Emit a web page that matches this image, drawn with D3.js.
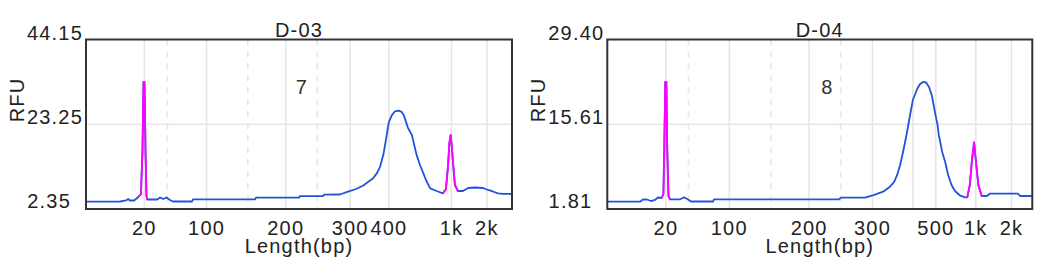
<!DOCTYPE html>
<html>
<head>
<meta charset="utf-8">
<script src="https://cdn.jsdelivr.net/npm/d3@7"></script>
<style>
  body { margin: 0; background: #fff; }
  text { font-family: "Liberation Sans", Arial, sans-serif; font-size: 20px; fill: #222; letter-spacing: 1.2px; }
</style>
</head>
<body>
<script>
'use strict'

// sample names and well numbers
var titles = ['D-03', 'D-04']
var wells = ['7', '8']

// RFU ticks (min, mid, max)
var yTicks03 = [2.35, 23.25, 44.15]
var yTicks04 = [1.81, 15.61, 29.40]

// ladder sizes (bp) and their migration time (normalised 0-100)
var ladderBp03 = [20, 50, 100, 150, 200, 250, 300, 400, 1000, 2000]
var ladderT03 = [13.7, 19.1, 28.3, 38.0, 46.9, 54.3, 62.0, 71.1, 85.8, 94.1]
var ladderBp04 = [20, 50, 100, 150, 200, 250, 300, 400, 500, 1000, 2000]
var ladderT04 = [13.8, 19.1, 28.7, 38.5, 47.5, 54.9, 62.4, 71.9, 77.3, 86.7, 95.1]
var labelled03 = [20, 100, 200, 300, 400, 1000, 2000]
var labelled04 = [20, 100, 200, 300, 500, 1000, 2000]
var minorBp = [50, 150, 250]

// traces: [time, RFU]
var trace03 = [
  [0, 4.15], [8.0, 4.2], [9.4, 4.45], [9.9, 4.82], [10.3, 4.45], [11.3, 4.45], [12.0, 5.06],
  [12.4, 5.43], [12.9, 6.05], [13.26, 16.9], [13.5, 33.7], [13.73, 33.7], [13.97, 16.9], [14.2, 5.56], [14.4, 4.69],
  [16.7, 4.69], [17.4, 5.19], [18.1, 4.82], [18.9, 5.19], [19.7, 4.57], [20.4, 4.2], [24.9, 4.2], [25.1, 4.74],
  [39.7, 4.74], [39.9, 5.14], [50.0, 5.14], [50.2, 5.51], [55.6, 5.51], [55.9, 5.88], [59.6, 5.93],
  [61.5, 6.62], [63.4, 7.28], [65.0, 8.1], [66.2, 9.0], [67.4, 9.92], [68.3, 11.2], [69.0, 12.7], [69.8, 15.7],
  [70.6, 20.6], [71.1, 23.8], [71.8, 25.5], [72.5, 26.4], [73.4, 26.6], [74.1, 26.3], [74.6, 25.5], [75.1, 23.9],
  [75.6, 22.3], [76.5, 20.6], [77.6, 15.7], [78.4, 13.2], [79.2, 11.15], [79.8, 9.5], [80.8, 7.45], [82.3, 6.79],
  [83.8, 6.22], [84.5, 7.28], [85.0, 13.2], [85.3, 18.6], [85.6, 20.6], [85.8, 18.6], [86.2, 13.2], [86.6, 8.27], [87.3, 6.79],
  [88.5, 6.79], [89.7, 7.53], [91.3, 7.65], [93.2, 7.53], [94.4, 7.04], [95.5, 6.67], [96.7, 6.22], [97.9, 6.1], [100, 6.05]
]
var trace04 = [
  [0, 3.0], [7.7, 3.0], [8.4, 3.36], [9.3, 3.36], [10.3, 3.11], [11.2, 3.28], [11.9, 3.68],
  [12.8, 3.6], [13.2, 4.25], [13.4, 11.4], [13.65, 22.5], [13.9, 22.5], [14.1, 11.4], [14.4, 3.93], [14.75, 3.39],
  [17.1, 3.39], [18.1, 3.71], [19.0, 3.36], [19.7, 3.03], [24.9, 3.03], [25.1, 3.39], [54.5, 3.39], [55.0, 3.65],
  [60.6, 3.65], [62.5, 4.04], [64.9, 4.63], [66.5, 5.44], [67.5, 6.21], [68.2, 7.35], [68.9, 8.97], [69.6, 11.14],
  [70.4, 13.86], [71.2, 16.95], [71.9, 19.56], [72.9, 21.35], [73.6, 22.16], [74.3, 22.5], [75.0, 22.4], [75.7, 21.67],
  [76.4, 20.2], [77.0, 17.9], [77.7, 15.5], [78.0, 13.86], [78.8, 11.1], [79.5, 9.46], [80.2, 7.35], [81.0, 5.72],
  [81.8, 4.74], [83.0, 4.0], [84.2, 3.71], [84.7, 3.71],
  [85.3, 5.72], [85.8, 9.79], [86.3, 12.67], [86.7, 9.79], [87.3, 5.72], [88.1, 3.93],
  [89.3, 3.93], [90.0, 4.3], [96.6, 4.3], [97.1, 3.93], [100, 3.93]
]
// marker (lower / upper) time windows
var markers03 = [[12.4, 14.4], [83.8, 87.3]]
var markers04 = [[12.8, 14.75], [84.7, 88.1]]

var panels = [
  {title: titles[0], well: wells[0], yTicks: yTicks03, bp: ladderBp03, t: ladderT03, labelled: labelled03, trace: trace03, markers: markers03, left: 86, width: 426, wellX: 0.507},
  {title: titles[1], well: wells[1], yTicks: yTicks04, bp: ladderBp04, t: ladderT04, labelled: labelled04, trace: trace04, markers: markers04, left: 607.3, width: 425, wellX: 0.518}
]

var plotTop = 39.5
var plotHeight = 169.5

var svg = d3.select('body').append('svg')
  .attr('width', 1041)
  .attr('height', 270)

var fmt = d => d >= 1000 ? (d / 1000) + 'k' : String(d)

panels.forEach(function (p) {
  var x = d3.scaleLinear().domain([0, 100]).range([0, p.width])
  var y = d3.scaleLinear().domain([p.yTicks[0], p.yTicks[2]]).range([plotHeight, 0])

  var g = svg.append('g')
    .attr('transform', `translate(${p.left}, ${plotTop})`)

  var ladder = p.bp.map((bp, i) => ({bp: bp, t: p.t[i], minor: minorBp.indexOf(bp) >= 0}))

  // vertical grid at ladder sizes
  g.selectAll('line.vgrid')
    .data(ladder)
    .enter().append('line')
    .attr('class', 'vgrid')
    .attr('x1', d => x(d.t)).attr('x2', d => x(d.t))
    .attr('y1', 0).attr('y2', plotHeight)
    .style('stroke', '#e6e6e6')
    .style('stroke-width', 1.6)
    .style('stroke-dasharray', d => d.minor ? '6,6' : null)

  // horizontal grid at mid tick
  g.append('line')
    .attr('x1', 0).attr('x2', p.width)
    .attr('y1', y(p.yTicks[1])).attr('y2', y(p.yTicks[1]))
    .style('stroke', '#e6e6e6')
    .style('stroke-width', 1.6)

  var line = d3.line().x(d => x(d[0])).y(d => y(d[1]))

  g.append('path')
    .datum(p.trace)
    .attr('d', line)
    .style('fill', 'none')
    .style('stroke', '#2352de')
    .style('stroke-width', 1.8)
    .style('stroke-linejoin', 'round')

  p.markers.forEach(function (m) {
    g.append('path')
      .datum(p.trace.filter(d => d[0] >= m[0] && d[0] <= m[1]))
      .attr('d', line)
      .style('fill', 'none')
      .style('stroke', '#ff00ff')
      .style('stroke-width', 1.8)
      .style('stroke-linejoin', 'round')
  })

  // frame
  g.append('rect')
    .attr('width', p.width).attr('height', plotHeight)
    .style('fill', 'none')
    .style('stroke', '#333')
    .style('stroke-width', 2)

  // y tick labels (baseline sits on the tick)
  g.selectAll('text.ytick')
    .data(p.yTicks)
    .enter().append('text')
    .attr('class', 'ytick')
    .attr('text-anchor', 'end')
    .attr('x', (d, i) => i === 0 ? -15 : -3)
    .attr('y', (d, i) => y(d) - (i === 0 ? 1 : 0))
    .text(d => d.toFixed(2))

  // x tick labels
  g.selectAll('text.xtick')
    .data(ladder.filter(d => p.labelled.indexOf(d.bp) >= 0))
    .enter().append('text')
    .attr('class', 'xtick')
    .attr('text-anchor', 'middle')
    .attr('x', d => x(d.t))
    .attr('y', plotHeight + 26)
    .text(d => fmt(d.bp))

  g.append('text')
    .attr('text-anchor', 'middle')
    .attr('x', p.width / 2)
    .attr('y', plotHeight + 44)
    .text('Length(bp)')

  g.append('text')
    .attr('text-anchor', 'middle')
    .attr('transform', `translate(-62, ${100 - plotTop}) rotate(-90)`)
    .text('RFU')

  g.append('text')
    .attr('text-anchor', 'middle')
    .attr('x', p.width / 2)
    .attr('y', -3)
    .text(p.title)

  g.append('text')
    .attr('text-anchor', 'middle')
    .attr('x', p.width * p.wellX)
    .attr('y', 94 - plotTop)
    .style('fill', '#333')
    .text(p.well)
})
</script>
</body>
</html>
